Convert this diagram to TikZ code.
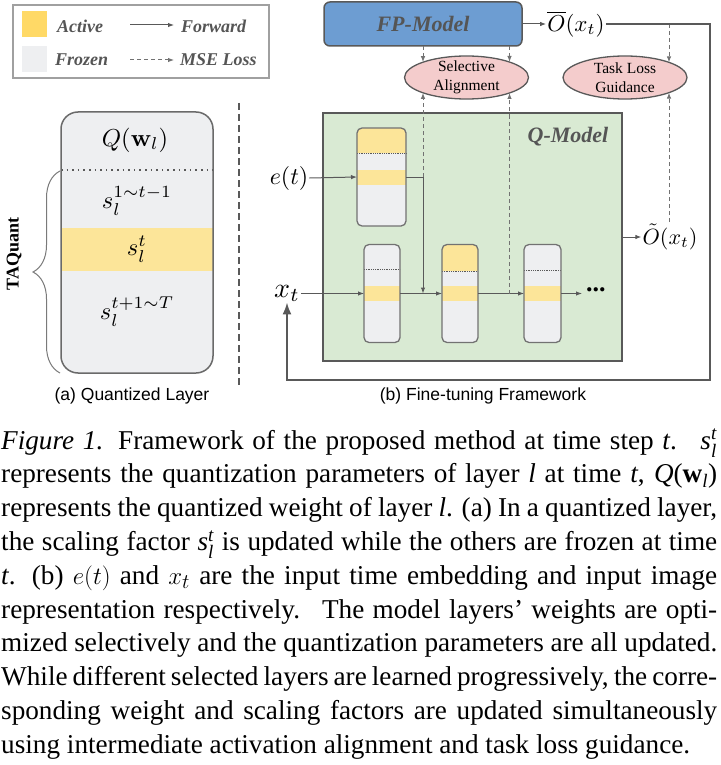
\documentclass[tikz,border=0pt]{standalone}
\usepackage{amsmath}
\usepackage{graphicx}
\usepackage[no-math]{fontspec}
\setmainfont{Liberation Serif}
\setsansfont{Liberation Sans}
\usetikzlibrary{arrows.meta,decorations.pathreplacing,calc,shapes.geometric}
\definecolor{lineg}{RGB}{89,89,89}
\definecolor{textg}{RGB}{85,85,85}
\definecolor{legb}{RGB}{160,160,160}
\definecolor{frozen}{RGB}{238,239,241}
\definecolor{yelA}{RGB}{255,217,102}
\definecolor{yelL}{RGB}{252,229,153}
\definecolor{fpblue}{RGB}{109,157,210}
\definecolor{qgreen}{RGB}{217,234,211}
\definecolor{pinkc}{RGB}{244,204,204}
\tikzset{
  fw/.style={lineg, line width=1pt, -{Latex[length=6pt,width=4.5pt]}},
  mse/.style={lineg!85, line width=1pt, dash pattern=on 4pt off 3pt, -{Latex[length=6pt,width=4.5pt]}},
  lblk/.style={rectangle, rounded corners=5pt, fill=frozen, inner sep=0, outer sep=0},
  lblkb/.style={draw=lineg!85, line width=1.3pt},
  elli/.style={ellipse, fill=pinkc, draw=lineg, line width=1.3pt, minimum width=124pt, minimum height=43pt, inner sep=0},
  bi/.style={font=\fontsize{18}{20}\selectfont\bfseries\itshape, text=textg, inner sep=0},
  bigbi/.style={font=\fontsize{22}{24}\selectfont\bfseries\itshape, text=textg, inner sep=0},
}
\newcommand{\mi}[1]{\textit{#1}}
\newcommand{\qblk}[9]{%
  \node[lblk, minimum width=#4pt, minimum height=#5pt] (#1) at (#2,#3) {};
  \begin{scope}
    \clip[rounded corners=5pt] (#1.north west) rectangle (#1.south east);
    \ifnum#6=1 \fill[yelL] (#1.north west) rectangle (#1.east |- 0,#7); \fi
    \fill[yelL] (#1.west |- 0,#8) rectangle (#1.east |- 0,#9);
  \end{scope}
  \draw[lineg, densely dotted, line width=0.8pt] (#1.west |- 0,#7) -- (#1.east |- 0,#7);
  \draw[lblkb, rounded corners=5pt] (#1.north west) rectangle (#1.south east);
}
\begin{document}
\begin{tikzpicture}[x=1pt, y=-1pt]
\useasboundingbox (0,0) rectangle (720,765);

% ---------- legend
\node[draw=legb, line width=1.8pt, minimum width=256pt, minimum height=73pt, inner sep=0] (leg) at (141,41.5) {};
\node[fill=yelA, minimum width=25pt, minimum height=26pt, inner sep=0] (sqA) at (34.5,24) {};
\node[fill=frozen, minimum width=25pt, minimum height=26pt, inner sep=0] (sqF) at (34.5,59) {};
\node[bi, anchor=west] (tA) at (57,26) {Active};
\node[bi, anchor=west] (tF) at (55,60) {Frozen};
\coordinate (fa1) at (130,25);
\coordinate (fa2) at (174,25);
\coordinate (ma1) at (130,60);
\coordinate (ma2) at (174,60);
\draw[fw] (fa1) -- (fa2);
\draw[mse] (ma1) -- (ma2);
\node[bi, anchor=west] (tFw) at (181,26) {Forward};
\node[bi, anchor=west] (tM) at (180,60) {MSE Loss};

% ---------- part (a)
\node[fill=frozen, rounded corners=17pt, minimum width=152pt, minimum height=261pt, inner sep=0, outer sep=0] (ql) at (137,242.5) {};
\begin{scope}
  \clip[rounded corners=17pt] (ql.north west) rectangle (ql.south east);
  \fill[yelL] (ql.west |- 0,228) rectangle (ql.east |- 0,271);
\end{scope}
\draw[lineg, line width=1.6pt, dash pattern=on 1.6pt off 4pt] (ql.west |- 0,170) -- (ql.east |- 0,170);
\draw[draw=lineg!90, line width=1.5pt, rounded corners=17pt] (ql.north west) rectangle (ql.south east);
\node[inner sep=0] (qw) at (135,140) {\scalebox{2.45}{$Q(\mathbf{w}_l)$}};
\node[inner sep=0] (s1) at (137,201) {\scalebox{2.45}{$s_l^{1\sim t-1}$}};
\node[inner sep=0] (st) at (137,249) {\scalebox{2.45}{$s_l^{t}$}};
\node[inner sep=0] (s3) at (137,312) {\scalebox{2.45}{$s_l^{t+1\sim T}$}};
\coordinate (brb) at (60,373);
\coordinate (brt) at (60,171);
\draw[lineg!80, line width=1pt, decorate, decoration={brace, amplitude=27pt}] (brb) -- (brt);
\node[rotate=90, font=\fontsize{18}{20}\selectfont\bfseries] (taq) at (14,254) {TAQuant};
\coordinate (sepa) at (239,103);
\coordinate (sepb) at (239,385);
\draw[lineg, line width=1.5pt, dash pattern=on 7pt off 4pt] (sepa) -- (sepb);
\node[font=\sffamily\fontsize{17.5}{20}\selectfont] (capa) at (132,396) {(a) Quantized Layer};

% ---------- part (b)
\node[fill=fpblue, draw=lineg, line width=1.5pt, rounded corners=6pt, minimum width=198pt, minimum height=44pt] (fp) at (423,24) {};
\node[bigbi] (fpt) at (fp) {FP-Model};
\node[inner sep=1pt] (obar) at (576,24) {\scalebox{2.3}{$\overline{O}(x_t)$}};
\draw[fw] (fp.east) -- (obar.west |- fp.east);

\node[fill=qgreen, draw=lineg, line width=1.8pt, minimum width=299pt, minimum height=248pt, inner sep=0] (qm) at (472.5,237) {};
\node[bigbi] (qmt) at (568,137) {Q-Model};

\node[elli] (sel) at (466.5,77.5) {};
\node[font=\fontsize{15.5}{19}\selectfont, align=center, inner sep=0] (selt) at (sel) {Selective\\Alignment};
\node[elli] (tlg) at (625,77.5) {};
\node[font=\fontsize{15.5}{19}\selectfont, align=center, inner sep=0] (tlgt) at (tlg) {Task Loss\\Guidance};

\node[inner sep=1pt] (otil) at (670,237) {\scalebox{2.2}{$\tilde{O}(x_t)$}};
\draw[fw] (qm.east) -- (otil.west |- qm.east);

% layer blocks
\qblk{L0}{381.5}{177}{49}{98}{1}{153}{170}{185}
\qblk{b1}{382}{293.5}{36}{98}{0}{269}{286}{301}
\qblk{b2}{460}{293.5}{36}{98}{1}{271}{286}{301}
\qblk{b3}{542.5}{293.5}{37}{98}{0}{270}{286}{301}

\node[inner sep=1pt] (et) at (289,178) {\scalebox{2.4}{$e(t)$}};
\node[inner sep=1pt, anchor=base] (xt) at (287,297) {\scalebox{2.8}{$x_t$}};

\draw[fw] (et.east) -- (L0.west);
\coordinate (j1) at (423,177);
\coordinate (j1b) at (423,293.5);
\coordinate (j2) at (509.5,293.5);
\draw[lineg, line width=1pt] (L0.east) -- (j1);
\draw[fw] (j1) -- (j1b);
\draw[fw] (xt.east |- b1.west) -- (b1.west);
\draw[fw] (b1.east) -- (b2.west);
\draw[fw] (b2.east) -- (b3.west);
\coordinate (dotL) at (582,293.5);
\draw[fw] (b3.east) -- (dotL);
\node[anchor=west, inner sep=0] (dots) at (586,290) {\fontsize{26}{26}\selectfont\bfseries ...};

% MSE dashed connectors
\coordinate (d1a) at (423,46);
\coordinate (d1b) at (423,62.2);
\coordinate (d2a) at (509.5,46);
\coordinate (d2b) at (509.5,62);
\coordinate (d3a) at (669,24);
\coordinate (d3b) at (669,62.4);
\coordinate (u1) at (423,92.8);
\coordinate (u2) at (509.5,93);
\coordinate (u3) at (669,92.6);
\coordinate (u3b) at (669,222);
\draw[mse] (d1a) -- (d1b);
\draw[mse] (d2a) -- (d2b);
\draw[mse] (d3a) -- (d3b);
\draw[mse] (j1) -- (u1);
\draw[mse] (j2) -- (u2);
\draw[mse] (u3b) -- (u3);

% feedback loop
\coordinate (o1) at (710,24);
\coordinate (o2) at (710,380);
\coordinate (o3) at (287,380);
\draw[lineg, line width=2pt, -{Latex[length=12pt,width=9pt]}] (obar.east |- fp.east) -- (o1) -- (o2) -- (o3) -- (xt.south);

\node[font=\sffamily\fontsize{17.5}{20}\selectfont] (capb) at (483,396) {(b) Fine-tuning Framework};

% ---------- caption
\node[anchor=base west, inner sep=0] (cap) at (1,449) {\parbox[t]{716pt}{\fontsize{27.2}{33.8}\selectfont
\hbox to\hsize{\textit{Figure 1.} Framework of the proposed method at time step \mi{t}. \ \mi{s}$^{\text{\mi{t}}}_{\text{\mi{l}}}$}
\hbox to\hsize{represents the quantization parameters of layer \mi{l} at time \mi{t}, \mi{Q}(\textbf{w}$_{\text{\mi{l}}}$)}
\hbox to\hsize{represents the quantized weight of layer \mi{l}. (a) In a quantized layer,}
\hbox to\hsize{the scaling factor \mi{s}$^{\text{\mi{t}}}_{\text{\mi{l}}}$ is updated while the others are frozen at time}
\hbox to\hsize{\mi{t}. (b) $e(t)$ and $x_t$ are the input time embedding and input image}
\hbox to\hsize{representation respectively. \ The model layers’ weights are opti-}
\hbox to\hsize{mized selectively and the quantization parameters are all updated.}
\hbox to\hsize{While different selected layers are learned progressively, the corre-}
\hbox to\hsize{sponding weight and scaling factors are updated simultaneously}
\hbox{using intermediate activation alignment and task loss guidance.}
}};
\end{tikzpicture}
\end{document}
